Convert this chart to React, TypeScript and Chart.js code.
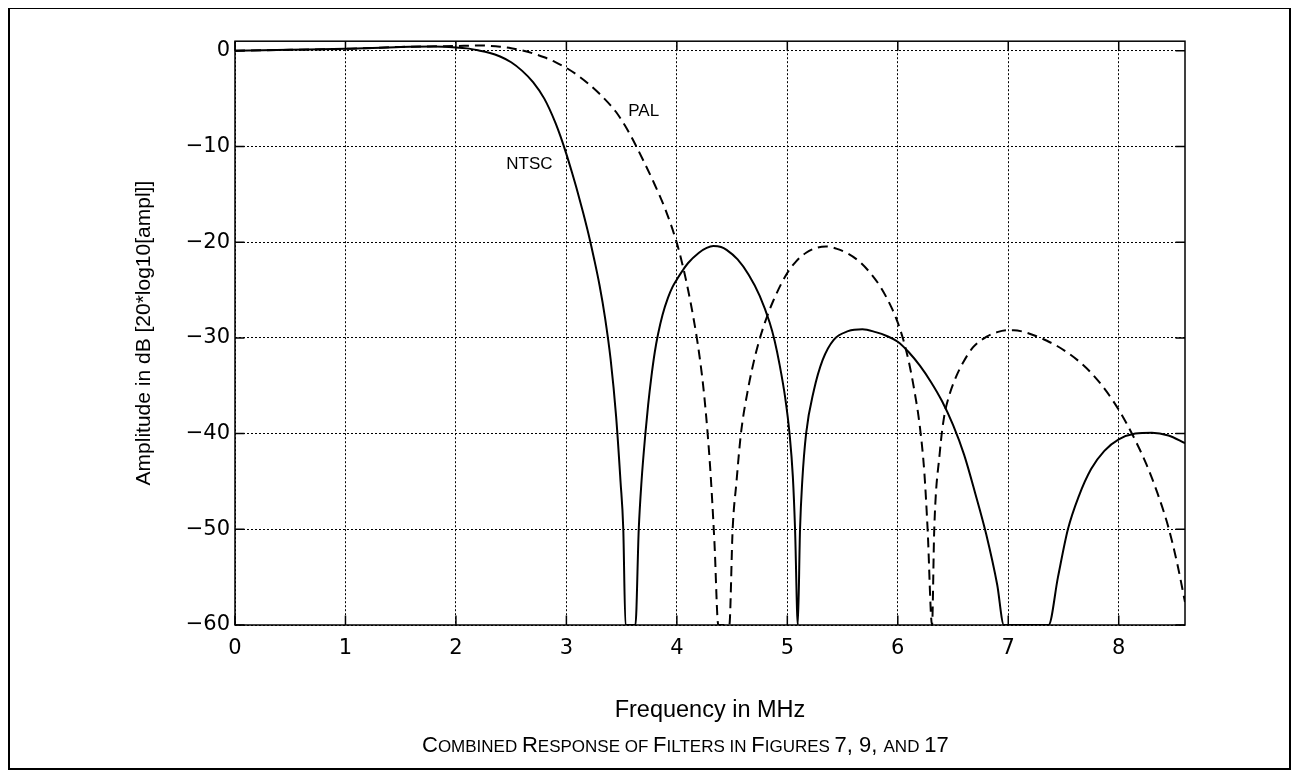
import React, { useEffect, useRef } from 'react';
import { Chart, registerables } from 'chart.js';

Chart.register(...registerables);

const FONT = '"Liberation Sans", Arial, Helvetica, sans-serif';
const TICK_FONT = '"DejaVu Sans", "Liberation Sans", Arial, sans-serif';

// NTSC response (solid)
const ntscFreq = [
  0, 0.5, 1.0, 1.5, 1.8, 2.0, 2.1, 2.2, 2.3, 2.4, 2.5, 2.6, 2.7, 2.8, 2.9, 2.95, 3.0, 3.05, 3.1, 3.15, 3.2, 3.25,
  3.3, 3.35, 3.4, 3.45, 3.49, 3.515, 3.535, 3.625, 3.655, 3.68, 3.715, 3.74, 3.77, 3.8, 3.83, 3.87, 3.92, 3.96,
  4.0, 4.05, 4.1, 4.2, 4.27, 4.33, 4.4, 4.45, 4.55, 4.65, 4.75, 4.84, 4.885, 4.93, 4.98, 5.02, 5.05, 5.07, 5.095,
  5.115, 5.135, 5.17, 5.24, 5.32, 5.42, 5.55, 5.68, 5.8, 5.9, 6.0, 6.1, 6.2, 6.3, 6.4, 6.5, 6.6, 6.7, 6.8, 6.9,
  6.96, 7.365, 7.45, 7.54, 7.64, 7.75, 7.87, 8.0, 8.15, 8.3, 8.45, 8.6,
];
const ntscDb = [
  0, 0.1, 0.2, 0.4, 0.45, 0.35, 0.25, 0.05, -0.2, -0.6, -1.2, -2.1, -3.3, -5.0, -7.5, -9.05, -10.8, -12.7, -14.7, -16.85, -19.15, -21.7,
  -24.5, -27.9, -32.2, -38.2, -45, -50, -60, -60, -50, -45, -40, -37.0, -34.0, -31.5, -29.6, -27.6, -25.8, -24.7,
  -23.9, -23.0, -22.2, -21.1, -20.6, -20.4, -20.5, -20.8, -21.8, -23.4, -25.6, -28.4, -30.3, -32.8, -36.2, -40, -44.5, -50, -60,
  -50, -45, -40, -35.5, -32.3, -30.2, -29.3, -29.1, -29.4, -29.8, -30.4, -31.5, -32.9, -34.6, -36.6, -39.1, -42.2, -46.2, -50.5, -55.8,
  -60, -60, -55, -50, -46.5, -43.7, -41.8, -40.6, -40.0, -39.9, -40.2, -41.0,
];

// PAL response (dashed)
const palFreq = [
  0, 0.5, 1.0, 1.5, 2.0, 2.2, 2.3, 2.4, 2.5, 2.6, 2.7, 2.8, 2.9, 3.0, 3.1, 3.2, 3.3, 3.4, 3.45, 3.5, 3.55, 3.6,
  3.7, 3.8, 3.9, 4.0, 4.05, 4.1, 4.15, 4.2, 4.25, 4.3, 4.34, 4.375, 4.475, 4.505, 4.54, 4.58, 4.65, 4.7, 4.745,
  4.8, 4.87, 4.99, 5.08, 5.17, 5.26, 5.35, 5.45, 5.55, 5.65, 5.75, 5.85, 5.95, 6.0, 6.05, 6.1, 6.15, 6.2, 6.24,
  6.27, 6.31, 6.33, 6.38, 6.42, 6.466, 6.53, 6.59, 6.68, 6.8, 6.9, 7.0, 7.05, 7.15, 7.25, 7.35, 7.45, 7.55, 7.65,
  7.75, 7.85, 7.95, 8.05, 8.15, 8.25, 8.35, 8.45, 8.53, 8.6,
];
const palDb = [
  0, 0.1, 0.2, 0.4, 0.5, 0.55, 0.52, 0.43, 0.27, 0.03, -0.28, -0.68, -1.18, -1.79, -2.55, -3.45, -4.5, -5.7, -6.4, -7.25, -8.2, -9.25,
  -11.55, -14.0, -16.7, -20.1, -22.3, -24.9, -27.9, -31.5, -36.3, -43.3, -51.3, -60, -60, -50, -45, -40, -35, -32.3, -30.3,
  -28.3, -26.2, -23.4, -22.0, -21.1, -20.6, -20.45, -20.7, -21.2, -22.0, -23.2, -24.8, -27.0, -28.4, -30.2, -32.5, -35.5, -39.3, -44,
  -50, -60, -50, -42, -38.2, -36.0, -34, -32.6, -31.0, -29.9, -29.4, -29.2, -29.2, -29.4, -29.8, -30.3, -30.9, -31.65, -32.55,
  -33.65, -35.0, -36.6, -38.5, -40.7, -43.2, -46.2, -49.8, -53.6, -57.6,
];

const xTicks = [0, 1, 2, 3, 4, 5, 6, 7, 8];
const yTicks = [-60, -50, -40, -30, -20, -10, 0];

const curveLabels = [
  { text: 'NTSC', f: 2.665, db: -11.9 },
  { text: 'PAL', f: 3.7, db: -6.3 },
];

const captionParts: [string, boolean][] = [
  ['C', true], ['OMBINED ', false], ['R', true], ['ESPONSE OF ', false], ['F', true], ['ILTERS IN ', false],
  ['F', true], ['IGURES ', false], ['7, 9, ', true], ['AND ', false], ['17', true],
];

const fmt = (v: number) => (v < 0 ? '\u2212' + Math.abs(v) : String(v));

const framePlugin = {
  id: 'frame',
  afterDraw(chart: any) {
    const { ctx, chartArea: a, scales } = chart;
    const x = scales.x;
    const y = scales.y;
    const L = 9.5;
    ctx.save();
    ctx.setLineDash([]);
    ctx.strokeStyle = '#000';
    ctx.lineWidth = 1.5;
    ctx.beginPath();
    for (const t of xTicks) {
      const px = x.getPixelForValue(t);
      ctx.moveTo(px, a.bottom);
      ctx.lineTo(px, a.bottom - L);
      ctx.moveTo(px, a.top);
      ctx.lineTo(px, a.top + L);
    }
    for (const t of yTicks) {
      const py = y.getPixelForValue(t);
      ctx.moveTo(a.left, py);
      ctx.lineTo(a.left + L, py);
      ctx.moveTo(a.right, py);
      ctx.lineTo(a.right - L, py);
    }
    ctx.stroke();
    ctx.strokeRect(a.left, a.top, a.right - a.left, a.bottom - a.top);
    ctx.fillStyle = '#000';
    ctx.font = '17px ' + FONT;
    ctx.textAlign = 'center';
    ctx.textBaseline = 'middle';
    for (const l of curveLabels) {
      ctx.fillText(l.text, x.getPixelForValue(l.f), y.getPixelForValue(l.db));
    }
    ctx.restore();
  },
};

export default function App() {
  const ref = useRef<HTMLCanvasElement | null>(null);

  useEffect(() => {
    if (!ref.current) return;
    Chart.defaults.color = '#000';
    Chart.defaults.font.family = FONT;
    const chart = new Chart(ref.current, {
      type: 'line',
      data: {
        datasets: [
          {
            label: 'NTSC',
            data: ntscFreq.map((f, i) => ({ x: f, y: ntscDb[i] })),
            borderColor: '#000',
            borderWidth: 2,
            pointRadius: 0,
            fill: false,
            cubicInterpolationMode: 'monotone',
          },
          {
            label: 'PAL',
            data: palFreq.map((f, i) => ({ x: f, y: palDb[i] })),
            borderColor: '#000',
            borderWidth: 2,
            borderDash: [10, 6],
            pointRadius: 0,
            fill: false,
            cubicInterpolationMode: 'monotone',
          },
        ],
      },
      options: {
        responsive: false,
        animation: false,
        layout: { padding: { left: 0, right: 104, top: 32.2, bottom: 0 } },
        plugins: { legend: { display: false }, tooltip: { enabled: false } },
        scales: {
          x: {
            type: 'linear',
            min: 0,
            max: 8.6,
            afterBuildTicks: (s: any) => {
              s.ticks = xTicks.map((v) => ({ value: v }));
            },
            afterFit: (s: any) => {
              s.height = 143;
            },
            grid: { color: '#000', lineWidth: 1, drawTicks: false },
            border: { display: false, dash: [2, 2] },
            ticks: {
              padding: 11,
              maxRotation: 0,
              autoSkip: false,
              color: '#000',
              font: { family: TICK_FONT, size: 21 },
              callback: (v: any) => fmt(Number(v)),
            },
            title: {
              display: true,
              text: 'Frequency in MHz',
              color: '#000',
              font: { family: FONT, size: 23.5 },
              padding: { top: 0, bottom: 43 },
            },
          },
          y: {
            type: 'linear',
            min: -60,
            max: 1,
            afterBuildTicks: (s: any) => {
              s.ticks = yTicks.map((v) => ({ value: v }));
            },
            afterFit: (s: any) => {
              s.width = 225;
            },
            grid: { color: '#000', lineWidth: 1, drawTicks: false },
            border: { display: false, dash: [2, 2] },
            ticks: {
              padding: 5,
              autoSkip: false,
              color: '#000',
              font: { family: TICK_FONT, size: 21 },
              callback: (v: any) => fmt(Number(v)),
            },
            title: {
              display: true,
              text: 'Amplitude in dB [20*log10[ampl]]',
              color: '#000',
              font: { family: FONT, size: 21 },
              padding: { top: 121.4, bottom: 0 },
            },
          },
        },
      },
      plugins: [framePlugin],
    });
    return () => chart.destroy();
  }, []);

  return (
    <div
      style={{
        position: 'relative',
        width: 1283,
        height: 763,
        border: '2px solid #000',
        boxSizing: 'border-box',
        marginTop: -1,
        background: '#fff',
      }}
    >
      <canvas ref={ref} width={1279} height={759} style={{ display: 'block' }} />
      <div
        style={{
          position: 'absolute',
          left: 412,
          top: 723,
          whiteSpace: 'nowrap',
          fontFamily: FONT,
          lineHeight: '26px',
          color: '#000',
        }}
      >
        {captionParts.map(([t, big], i) => (
          <span key={i} style={{ fontSize: big ? 22 : 17 }}>
            {t}
          </span>
        ))}
      </div>
    </div>
  );
}
